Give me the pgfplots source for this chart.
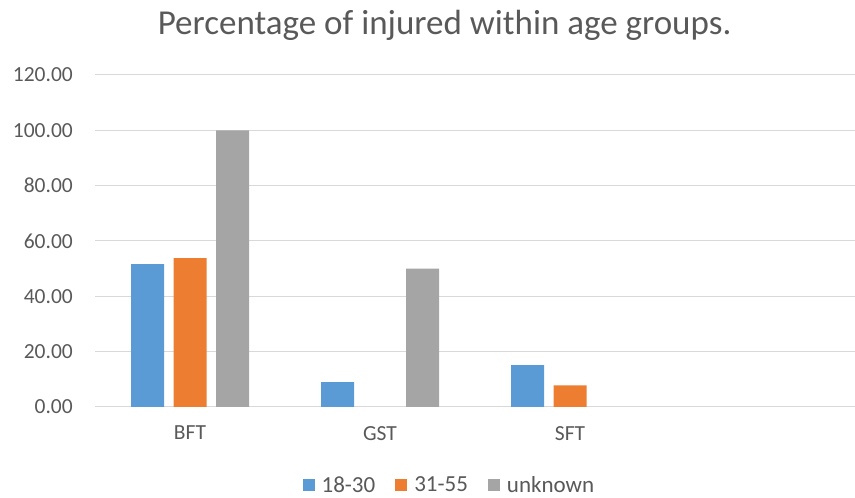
\documentclass[border=0pt]{standalone}
\usepackage{pgfplots}
\pgfplotsset{compat=1.18}
\usepackage{fontspec}
\setmainfont{Carlito}
\definecolor{cblue}{HTML}{5B9BD5}
\definecolor{corange}{HTML}{ED7D31}
\definecolor{cgray}{HTML}{A5A5A5}
\definecolor{ctext}{HTML}{595959}
\definecolor{cgrid}{HTML}{D9D9D9}
\begin{document}
\begin{tikzpicture}[x=1pt,y=1pt]
\useasboundingbox (0,0) rectangle (855,498);
\begin{axis}[
  at={(95pt,91pt)}, anchor=south west,
  scale only axis, width=760pt, height=332pt,
  xmin=-0.5, xmax=3.5, ymin=0, ymax=120,
  xtick={0,1,2}, xticklabels={BFT,GST,SFT},
  ytick={0,20,...,120},
  ymajorgrids, grid style={cgrid, line width=1pt},
  axis line style={draw=none},
  axis x line*=bottom,
  x axis line style={cgrid, line width=1pt},
  major tick length=0pt,
  tick label style={font=\fontsize{21.5}{24}\selectfont, text=ctext, inner sep=0pt},
  /pgf/number format/assume math mode=true,
  yticklabel={\pgfmathprintnumber[fixed,zerofill,precision=2]{\tick}},
  yticklabel style={anchor=east, xshift=-22pt},
  xticklabel style={anchor=north, yshift=-19pt},
  bar width=33pt,
  ybar,
  title={Percentage of injured within age groups.},
  title style={font=\fontsize{35}{40}\selectfont, text=ctext, at={(0.46,1)}, anchor=base, yshift=34pt, inner sep=0pt},
  legend columns=3,
  legend style={draw=none, at={(0.465,-0.235)}, anchor=center, font=\fontsize{23}{26}\selectfont, text=ctext,
    nodes={inner sep=0pt},
    /tikz/every odd column/.append style={column sep=7pt},
    /tikz/every even column/.append style={column sep=20pt}},
  legend image code/.code={\draw[#1, draw=none] (0pt,-6pt) rectangle (12pt,6pt);},
  clip=false,
]
\addplot[fill=cblue, draw=none, bar shift=-42.5pt] coordinates {(0,51.6) (1,9.0) (2,15.1)};
\addplot[fill=corange, draw=none, bar shift=0pt] coordinates {(0,53.8) (2,7.8)};
\addplot[fill=cgray, draw=none, bar shift=42.5pt] coordinates {(0,100) (1,50)};
\legend{18-30,31-55,unknown}
\end{axis}
\end{tikzpicture}
\end{document}
